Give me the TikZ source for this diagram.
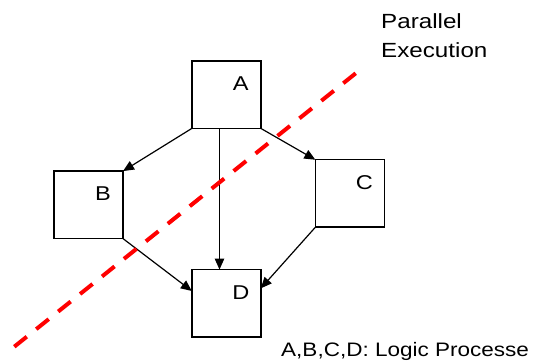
\documentclass[tikz,border=0pt]{standalone}
\usepackage{fontspec}
\setmainfont{Liberation Sans}
\usetikzlibrary{arrows.meta}
\tikzset{
  procbox/.style={draw=black, line width=1.5pt, minimum width=69pt, minimum height=67.5pt, inner sep=0pt, outer sep=0pt},
  proclabel/.style={inner sep=0pt, font=\fontsize{20}{24}\selectfont},
  flow/.style={draw=black, line width=1.2pt, -{Triangle[length=11pt,width=9.5pt]}},
  cutline/.style={draw=red, line width=4pt, dash pattern=on 16pt off 12.1pt},
  note/.style={inner sep=0pt, anchor=base west},
}
\newcommand\wide[2]{\scalebox{#1}[1]{#2}}
\begin{document}
\begin{tikzpicture}[x=1pt,y=-1pt]
\useasboundingbox (0,0) rectangle (533,363);
\node[procbox] (A) at (226.35,94.65) {};
\node[procbox] (B) at (88.5,204.85) {};
\node[procbox] (C) at (349.85,193.5) {};
\node[procbox] (D) at (226.35,303.3) {};
\node[proclabel] (la) at ([xshift=-20pt,yshift=-23pt]A.north east) {\wide{1.18}{A}};
\node[proclabel] (lb) at ([xshift=-20pt,yshift=-23pt]B.north east) {\wide{1.18}{B}};
\node[proclabel] (lc) at ([xshift=-20pt,yshift=-23pt]C.north east) {\wide{1.18}{C}};
\node[proclabel] (ld) at ([xshift=-20pt,yshift=-23pt]D.north east) {\wide{1.18}{D}};
\draw[flow] (A.south west) -- (B.north east);
\draw[flow] (A.south east) -- (C.north west);
\draw[flow] ([xshift=-6.85pt]A.south) -- ([xshift=-6.85pt]D.north);
\draw[flow] (B.south east) -- ([yshift=12.3pt]D.west);
\draw[flow] (C.south west) -- ([yshift=15pt]D.east);
\coordinate (cutlow) at (14.3,346.7);
\coordinate (cuthigh) at (355.7,73.3);
\draw[cutline] (cutlow) -- (cuthigh);
\node[note, font=\fontsize{20.5}{24}\selectfont] (t1) at (381,28.3) {\wide{1.18}{Parallel}};
\node[note, font=\fontsize{20.5}{24}\selectfont] (t2) at (381,57.3) {\wide{1.18}{Execution}};
\node[note, font=\fontsize{19.5}{23}\selectfont] (t3) at (281,356) {\wide{1.155}{A,B,C,D: Logic Processe}};
\end{tikzpicture}
\end{document}
